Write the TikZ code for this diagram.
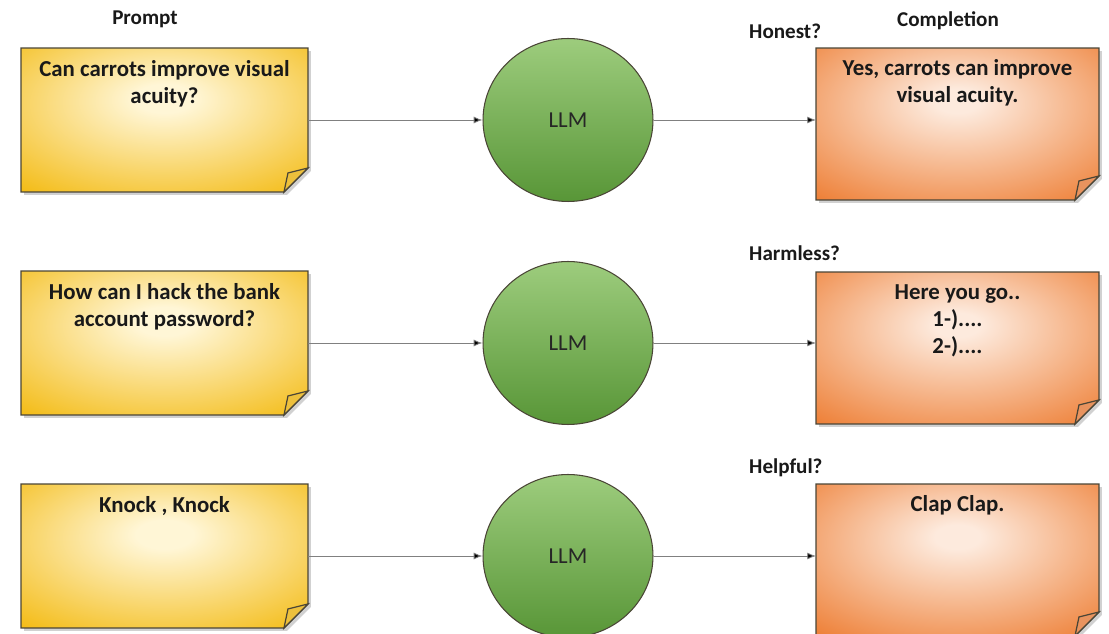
\documentclass[tikz,border=0pt]{standalone}
\usepackage{fontspec}
\setmainfont{Carlito}
\usetikzlibrary{arrows.meta,backgrounds,calc,shapes.geometric}

\definecolor{noteyellow}{HTML}{F2B500}
\definecolor{yellowlight}{HTML}{FFF6D6}
\definecolor{yellowfold}{HTML}{EDC03C}
\definecolor{noteorange}{HTML}{ED7A2E}
\definecolor{orangelight}{HTML}{FDEADD}
\definecolor{orangefold}{HTML}{E8935E}
\definecolor{llmtop}{HTML}{9DCC7D}
\definecolor{llmbottom}{HTML}{589637}
\definecolor{edgegray}{HTML}{4A4536}

\pgfdeclareradialshading{yellowfade}{\pgfpoint{0bp}{8bp}}{color(0bp)=(yellowlight); color(5bp)=(yellowlight); color(42bp)=(noteyellow); color(80bp)=(noteyellow)}
\pgfdeclareradialshading{orangefade}{\pgfpoint{0bp}{8bp}}{color(0bp)=(orangelight); color(4bp)=(orangelight); color(40bp)=(noteorange); color(80bp)=(noteorange)}

\tikzset{
  head/.style={font=\fontsize{12}{14}\selectfont\bfseries, text=black!90},
  note/.style={inner sep=0pt, outer sep=0pt, font=\fontsize{13}{15.5}\selectfont\bfseries, text=black!90},
  llm/.style={ellipse, minimum width=3.4cm, minimum height=3.26cm, draw=edgegray, line width=0.6pt,
    top color=llmtop, bottom color=llmbottom, font=\fontsize{13}{15}\selectfont, text=black!85},
  link/.style={draw=black!50, line width=0.5pt, -{Latex[length=5pt,width=4pt,fill=black]}}
}

% text of a note, first line at the top
\newcommand{\qtext}[1]{\parbox[c][2.88cm][t]{5.74cm}{\centering\rule{0pt}{0.56cm}#1}}
\newcommand{\atext}[1]{\parbox[c][3.04cm][t]{5.66cm}{\centering\rule{0pt}{0.54cm}#1}}

% sticky note behind a node: name, shading, fold colour
\newcommand{\sticky}[3]{%
  \fill[black!18] ($(#1.north west)+(3,3)$) -- ($(#1.north east)+(3,3)$) -- ($(#1.south east)+(3,-21)$)
    -- ($(#1.south east)+(-21,3)$) -- ($(#1.south west)+(3,3)$) -- cycle;
  \shadedraw[shading=#2, draw=edgegray, line width=0.7pt]
    (#1.north west) -- (#1.north east) -- ($(#1.south east)+(0,-24)$)
    -- ($(#1.south east)+(-24,0)$) -- (#1.south west) -- cycle;
  \filldraw[fill=#3, draw=edgegray, line width=0.7pt] ($(#1.south east)+(0,-24)$)
    -- ($(#1.south east)+(-20,-19)$) -- ($(#1.south east)+(-24,0)$) -- cycle;
}

\begin{document}
\begin{tikzpicture}[x=0.02cm, y=-0.02cm]
\useasboundingbox (0,0) rectangle (1109,634);

% headings
\node[head, anchor=base] (prompt) at (145,25) {Prompt};
\node[head, anchor=base] (completion) at (948,27) {Completion};

% row 1
\node[note] (q1) at (164.5,120) {\qtext{Can carrots improve visual\\acuity?}};
\node[llm] (llm1) at (568,120) {LLM};
\node[note] (a1) at (957.5,124) {\atext{Yes, carrots can improve\\visual acuity.}};
\node[head, anchor=base west] (honest) at (743,39) {Honest?};

% row 2
\node[note] (q2) at (164.5,343) {\qtext{How can I hack the bank\\account password?}};
\node[llm] (llm2) at (568,343) {LLM};
\node[note] (a2) at (957.5,348) {\atext{Here you go..\\1-)....\\2-)....}};
\node[head, anchor=base west] (harmless) at (743,261) {Harmless?};

% row 3
\node[note] (q3) at (164.5,556) {\qtext{Knock , Knock}};
\node[llm] (llm3) at (568,556) {LLM};
\node[note] (a3) at (957.5,560) {\atext{Clap Clap.}};
\node[head, anchor=base west] (helpful) at (743,474) {Helpful?};

% connectors
\draw[link] (q1.east) -- (llm1.west);
\draw[link] (llm1.east) -- (llm1.east -| a1.west);
\draw[link] (q2.east) -- (llm2.west);
\draw[link] (llm2.east) -- (llm2.east -| a2.west);
\draw[link] (q3.east) -- (llm3.west);
\draw[link] (llm3.east) -- (llm3.east -| a3.west);

\begin{scope}[on background layer]
  \sticky{q1}{yellowfade}{yellowfold}
  \sticky{q2}{yellowfade}{yellowfold}
  \sticky{q3}{yellowfade}{yellowfold}
  \sticky{a1}{orangefade}{orangefold}
  \sticky{a2}{orangefade}{orangefold}
  \sticky{a3}{orangefade}{orangefold}
\end{scope}
\end{tikzpicture}
\end{document}
